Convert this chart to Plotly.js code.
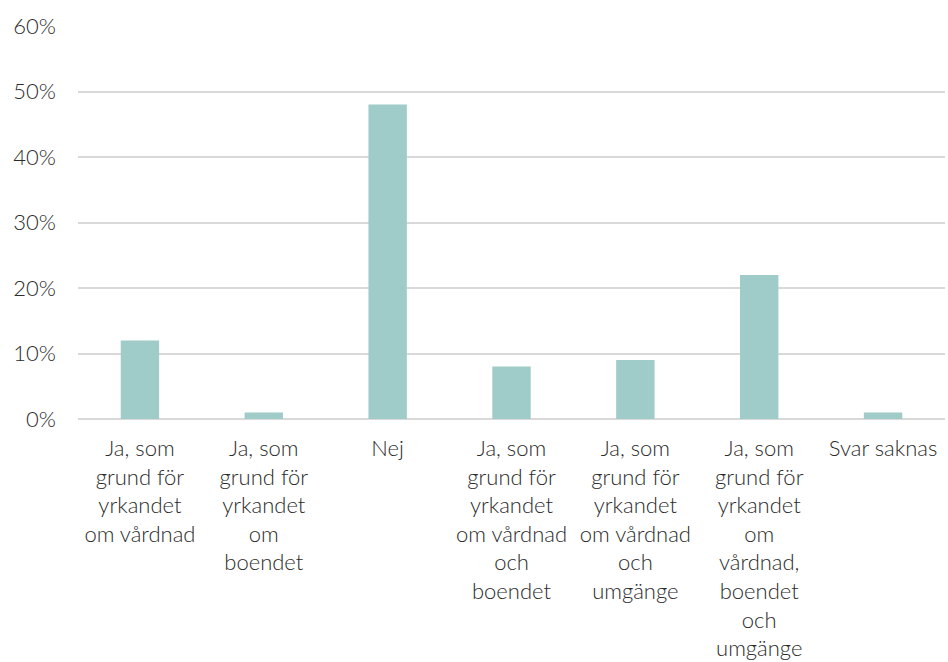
<!DOCTYPE html>
<html><head><meta charset="utf-8">
<script src="https://cdn.plot.ly/plotly-3.0.1.min.js"></script>
<style>html,body{margin:0;padding:0;background:#fff}#c{width:948px;height:662px}</style>
</head><body><div id="c"></div>
<script>
const categories = [
  "Ja, som<br>grund för<br>yrkandet<br>om vårdnad",
  "Ja, som<br>grund för<br>yrkandet<br>om<br>boendet",
  "Nej",
  "Ja, som<br>grund för<br>yrkandet<br>om vårdnad<br>och<br>boendet",
  "Ja, som<br>grund för<br>yrkandet<br>om vårdnad<br>och<br>umgänge",
  "Ja, som<br>grund för<br>yrkandet<br>om<br>vårdnad,<br>boendet<br>och<br>umgänge",
  "Svar saknas"
];
const values = [0.12, 0.01, 0.48, 0.08, 0.09, 0.22, 0.01];
const tickVals = [0, 0.1, 0.2, 0.3, 0.4, 0.5, 0.6];
const tickText = ["0%", "10%", "20%", "30%", "40%", "50%", "60%"];

Plotly.newPlot('c', [{
  type: 'bar', x: categories, y: values,
  marker: {color: '#9fcbc9'}, hoverinfo: 'none'
}], {
  width: 948, height: 662,
  margin: {l: 78, r: 3, t: 26, b: 243},
  paper_bgcolor: '#fff', plot_bgcolor: '#fff',
  font: {family: 'Lato, sans-serif', size: 22, color: '#2b2b2b', weight: 300},
  bargap: 0.69,
  showlegend: false,
  xaxis: {tickangle: 0, showgrid: false, showline: false, ticks: '', zeroline: false, ticklabelstandoff: 14},
  yaxis: {range: [0, 0.6], tickvals: tickVals, ticktext: tickText, showgrid: true, gridcolor: '#d9d9d9', gridwidth: 2,
          zeroline: true, zerolinecolor: '#d9d9d9', zerolinewidth: 2, showline: false, ticks: '', ticklabelstandoff: 21}
}, {displayModeBar: false, staticPlot: true});
</script></body></html>
